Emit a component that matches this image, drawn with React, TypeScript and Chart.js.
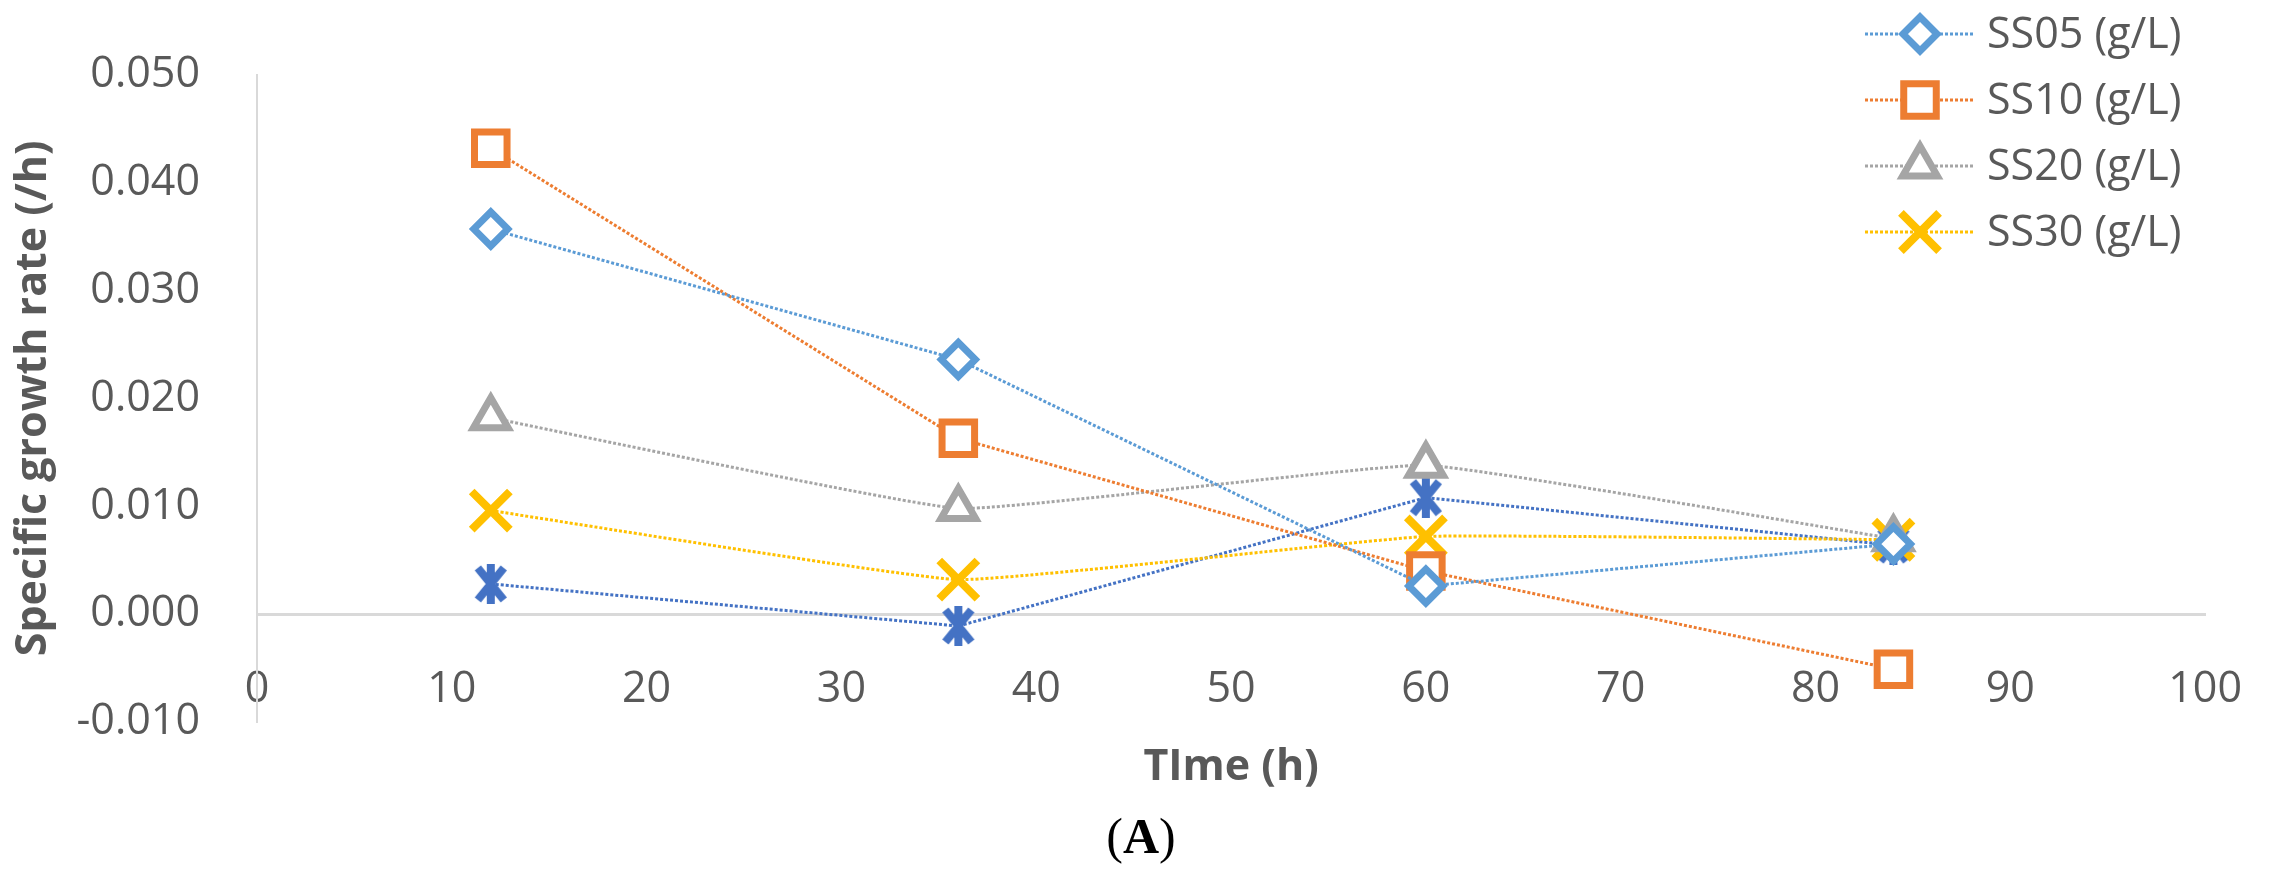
import { useEffect, useRef } from "react";
import { Chart, registerables } from "chart.js";
import { drawPoint } from "chart.js/helpers";

Chart.register(...registerables);

// values
const times = [12, 36, 60, 84];
const ss05 = [0.0357, 0.0236, 0.0026, 0.0065];
const ss10 = [0.0432, 0.0163, 0.004, -0.0051];
const ss20 = [0.0182, 0.0098, 0.0138, 0.007];
const ss30 = [0.0096, 0.0032, 0.0072, 0.0069];
const ss40 = [0.0028, -0.0011, 0.0108, 0.0064];

const legendLabels = ["SS05 (g/L)", "SS10 (g/L)", "SS20 (g/L)", "SS30 (g/L)", "SS40 (g/L)"];

const TEXT = "#595959";
const AXIS = "#D9D9D9";
const FONT = "'Open Sans', 'Noto Sans', sans-serif";

const W = 2284;
const H = 881;

const toPoints = (vals: number[]) => vals.map((v, i) => ({ x: times[i], y: v }));

// excel style asterisk: an x with a vertical bar
function makeStar(color: string, size: number, lw: number) {
  const c = document.createElement("canvas");
  c.width = size;
  c.height = size;
  const g = c.getContext("2d")!;
  g.strokeStyle = color;
  g.lineWidth = lw;
  const m = lw / 2;
  g.beginPath();
  g.moveTo(m + 3, m);
  g.lineTo(size - m - 3, size - m);
  g.moveTo(size - m - 3, m);
  g.lineTo(m + 3, size - m);
  g.moveTo(size / 2, 0);
  g.lineTo(size / 2, size);
  g.stroke();
  return c;
}

const legendPlugin = {
  id: "cornerLegend",
  afterDraw(chart: any) {
    const ctx = chart.ctx as CanvasRenderingContext2D;
    chart.data.datasets.forEach((ds: any, i: number) => {
      if (ds.noLegend) return;
      const y = 34 + i * 66;
      ctx.save();
      ctx.strokeStyle = ds.borderColor;
      ctx.lineWidth = ds.borderWidth;
      ctx.setLineDash(ds.borderDash || []);
      ctx.beginPath();
      ctx.moveTo(1865, y);
      ctx.lineTo(1975, y);
      ctx.stroke();
      ctx.restore();

      ctx.save();
      ctx.fillStyle = ds.pointBackgroundColor;
      ctx.strokeStyle = ds.pointBorderColor;
      ctx.lineWidth = ds.pointBorderWidth;
      drawPoint(
        ctx,
        { pointStyle: ds.pointStyle, radius: ds.pointRadius, rotation: 0, borderWidth: ds.pointBorderWidth },
        1920,
        y
      );
      ctx.restore();

      ctx.save();
      ctx.fillStyle = TEXT;
      ctx.font = `43px ${FONT}`;
      ctx.textBaseline = "middle";
      ctx.textAlign = "left";
      ctx.fillText(ds.label, 1987, y + 2);
      ctx.restore();
    });
  },
};

export default function App() {
  const canvasRef = useRef<HTMLCanvasElement | null>(null);

  useEffect(() => {
    document.body.style.margin = "0";
    const canvas = canvasRef.current;
    if (!canvas) return;

    const lineBase = { borderWidth: 3, borderDash: [3, 2], pointBorderWidth: 7, pointBackgroundColor: "#FFFFFF" };

    const chart = new Chart(canvas, {
      type: "line",
      data: {
        datasets: [
          {
            ...lineBase,
            label: legendLabels[0],
            data: toPoints(ss05),
            borderColor: "#5B9BD5",
            pointBorderColor: "#5B9BD5",
            pointStyle: "rectRot",
            pointRadius: 17,
            tension: 0,
          },
          {
            ...lineBase,
            label: legendLabels[1],
            data: toPoints(ss10),
            borderColor: "#ED7D31",
            pointBorderColor: "#ED7D31",
            pointStyle: "rect",
            pointRadius: 23,
            tension: 0,
          },
          {
            ...lineBase,
            label: legendLabels[2],
            data: toPoints(ss20),
            borderColor: "#A5A5A5",
            pointBorderColor: "#A5A5A5",
            pointStyle: "triangle",
            pointRadius: 20,
            tension: 0.1,
          },
          {
            ...lineBase,
            label: legendLabels[3],
            data: toPoints(ss30),
            borderColor: "#FFC000",
            pointBorderColor: "#FFC000",
            pointStyle: "crossRot",
            pointRadius: 27,
            pointBorderWidth: 8,
            tension: 0.1,
          },
          {
            ...lineBase,
            label: legendLabels[4],
            noLegend: true,
            data: toPoints(ss40),
            borderColor: "#4472C4",
            pointBorderColor: "#4472C4",
            pointStyle: makeStar("#4472C4", 40, 8),
            pointRadius: 20,
            tension: 0,
          },
        ] as any,
      },
      options: {
        animation: false,
        responsive: false,
        devicePixelRatio: 1,
        layout: { padding: { top: 63, right: 54, bottom: H - 722, left: 0 } },
        plugins: { legend: { display: false }, tooltip: { enabled: false } },
        scales: {
          x: {
            type: "linear",
            min: 0,
            max: 100,
            position: { y: 0 } as any,
            grid: { display: false },
            border: { display: true, color: AXIS, width: 3, dash: [3, 3] },
            ticks: { stepSize: 10, padding: 42, color: TEXT, font: { family: FONT, size: 43 } },
            title: {
              display: true,
              text: "TIme (h)",
              color: TEXT,
              font: { family: FONT, size: 43, weight: "bold" },
              padding: { top: -16, bottom: 0 },
            },
          },
          y: {
            type: "linear",
            min: -0.01,
            max: 0.05,
            grid: { display: false },
            border: { display: true, color: AXIS, width: 2, dash: [3, 3] },
            ticks: {
              stepSize: 0.01,
              padding: 49,
              color: TEXT,
              font: { family: FONT, size: 43 },
              callback: (v: any) => Number(v).toFixed(3),
            },
            title: {
              display: true,
              text: "Specific growth rate (/h)",
              color: TEXT,
              font: { family: FONT, size: 43, weight: "bold" },
              padding: { top: 8, bottom: 0 },
            },
            afterFit: (s: any) => {
              s.width = 257;
            },
          },
        },
      },
      plugins: [legendPlugin],
    });

    return () => chart.destroy();
  }, []);

  return (
    <div style={{ position: "relative", width: W, height: H, overflow: "hidden", background: "#fff" }}>
      <canvas ref={canvasRef} width={W} height={H} style={{ display: "block" }} />
      <div
        style={{
          position: "absolute",
          left: 1141,
          top: 836,
          transform: "translate(-50%, -50%)",
          fontFamily: "'Liberation Serif', 'DejaVu Serif', serif",
          fontSize: 50,
          lineHeight: 1,
          color: "#000",
          whiteSpace: "nowrap",
        }}
      >
        (<b>A</b>)
      </div>
    </div>
  );
}
